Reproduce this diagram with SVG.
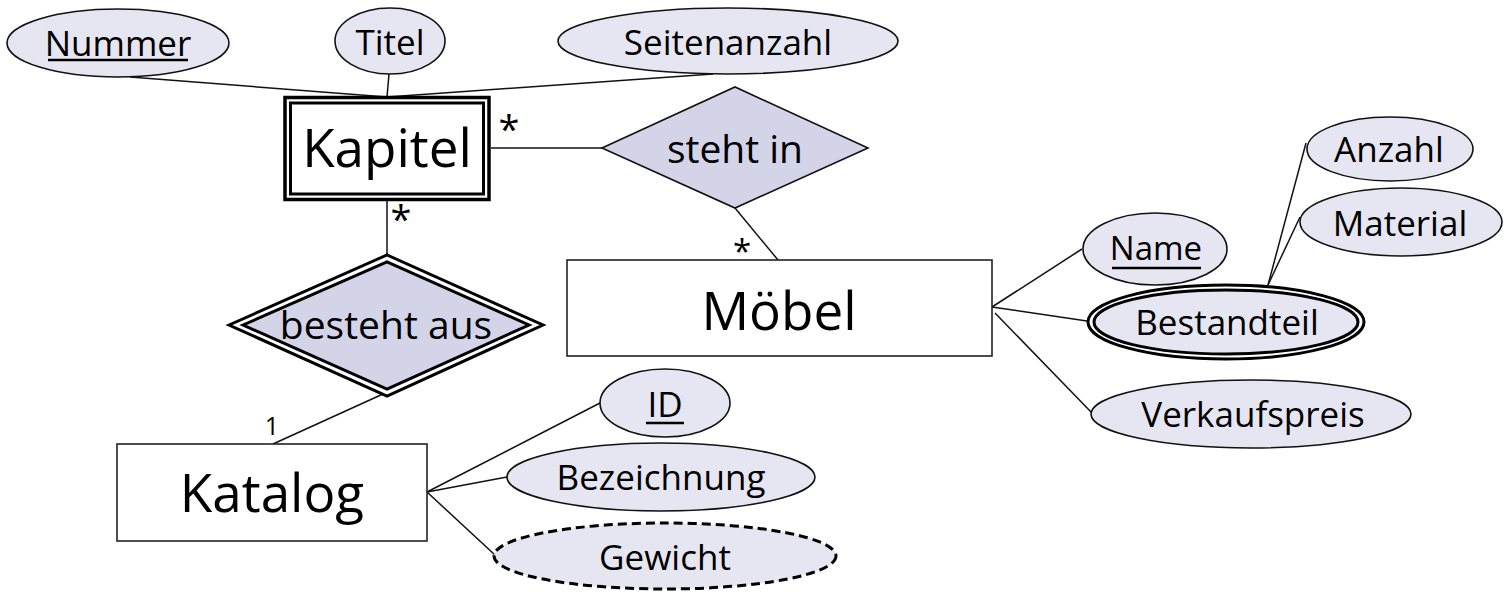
<svg xmlns="http://www.w3.org/2000/svg" width="1507" height="592" viewBox="0 0 1507 592">
<style>
text{font-family:"Open Sans","Noto Sans","DejaVu Sans",sans-serif;fill:#000;text-anchor:middle}
.attr{fill:#e6e6f2;stroke:#111;stroke-width:1.6}
.rel{fill:#d4d4e8;stroke:#111;stroke-width:1.6}
.ent{fill:#fff;stroke:#222;stroke-width:1.6}
.lbl{font-size:35px}
.big{font-size:53px}
.mid{font-size:39px}
.card{font-size:38px}
.ul{stroke:#000;stroke-width:2.5}
#connectors line{stroke:#111;stroke-width:1.5}
</style>
<g id="connectors">
<line x1="130" y1="77" x2="387" y2="97"/>
<line x1="389" y1="74" x2="387" y2="97"/>
<line x1="713" y1="74" x2="387" y2="97"/>
<line x1="491" y1="148" x2="602" y2="148"/>
<line x1="735" y1="208" x2="778" y2="260"/>
<line x1="387" y1="201" x2="387" y2="255"/>
<line x1="383" y1="394" x2="273" y2="444"/>
<line x1="427" y1="492" x2="600" y2="403"/>
<line x1="427" y1="492" x2="507" y2="477"/>
<line x1="427" y1="492" x2="495" y2="555"/>
<line x1="992" y1="307" x2="1082" y2="249"/>
<line x1="992" y1="307" x2="1087" y2="321"/>
<line x1="995" y1="313" x2="1092" y2="413"/>
<line x1="1268" y1="285" x2="1306" y2="143"/>
<line x1="1268" y1="285" x2="1300" y2="217"/>
</g>
<g id="cardinalities">
<text class="card" x="509" y="143">*</text>
<text class="card" x="401" y="233">*</text>
<text x="742" y="263" style="font-size:33px">*</text>
<text x="272" y="435" style="font-size:25px">1</text>
</g>
<g id="nummer">
<ellipse class="attr" cx="118" cy="43" rx="111" ry="34"/>
<text class="lbl" x="118" y="56">Nummer</text>
<line class="ul" x1="48" y1="60" x2="188" y2="60"/>
</g>
<g id="titel">
<ellipse class="attr" cx="390" cy="41" rx="55" ry="33"/>
<text class="lbl" x="390" y="55">Titel</text>
</g>
<g id="seitenanzahl">
<ellipse class="attr" cx="728" cy="41" rx="170" ry="33"/>
<text class="lbl" x="728" y="55">Seitenanzahl</text>
</g>
<g id="kapitel">
<rect x="285" y="97.5" width="204" height="102" fill="#fff" stroke="#000" stroke-width="3.5"/>
<rect x="290.5" y="103" width="193" height="91" fill="#fff" stroke="#000" stroke-width="3"/>
<text class="big" x="387" y="167">Kapitel</text>
</g>
<g id="steht-in">
<polygon class="rel" points="602,148 735,87 868,148 735,208"/>
<text class="mid" x="735" y="163">steht in</text>
</g>
<g id="moebel">
<rect class="ent" x="567" y="260" width="425" height="96"/>
<text class="big" x="779" y="330">Möbel</text>
</g>
<g id="besteht-aus">
<polygon points="229,325 387,255 543,325 387,396" fill="#fff" stroke="#000" stroke-width="3"/>
<polygon points="243,325 387,262 529,325 387,389" fill="#d4d4e8" stroke="#000" stroke-width="3"/>
<text class="mid" x="386" y="339">besteht aus</text>
</g>
<g id="katalog">
<rect class="ent" x="117" y="444" width="310" height="97"/>
<text class="big" x="272" y="512">Katalog</text>
</g>
<g id="id">
<ellipse class="attr" cx="665" cy="403" rx="65" ry="34"/>
<text class="lbl" x="665" y="417">ID</text>
<line class="ul" x1="646" y1="423" x2="684" y2="423"/>
</g>
<g id="bezeichnung">
<ellipse class="attr" cx="661" cy="477" rx="154" ry="34"/>
<text class="lbl" x="661" y="490">Bezeichnung</text>
</g>
<g id="gewicht">
<ellipse cx="665" cy="556" rx="171" ry="33" fill="#e6e6f2" stroke="#000" stroke-width="3" stroke-dasharray="9 5"/>
<text class="lbl" x="665" y="570">Gewicht</text>
</g>
<g id="name">
<ellipse class="attr" cx="1155" cy="249" rx="72" ry="36"/>
<text class="lbl" x="1156" y="260" style="font-size:33px">Name</text>
<line class="ul" x1="1112" y1="268" x2="1201" y2="268"/>
</g>
<g id="bestandteil">
<ellipse cx="1226" cy="322" rx="138" ry="37" fill="#fff" stroke="#000" stroke-width="3"/>
<ellipse cx="1226" cy="322" rx="132" ry="32" fill="#e6e6f2" stroke="#000" stroke-width="3"/>
<text class="lbl" x="1227" y="335">Bestandteil</text>
</g>
<g id="anzahl">
<ellipse class="attr" cx="1390" cy="149" rx="83" ry="32"/>
<text class="lbl" x="1389" y="162">Anzahl</text>
</g>
<g id="material">
<ellipse class="attr" cx="1401" cy="222" rx="101" ry="34"/>
<text class="lbl" x="1400" y="236">Material</text>
</g>
<g id="verkaufspreis">
<ellipse class="attr" cx="1251" cy="414" rx="160" ry="34"/>
<text class="lbl" x="1253" y="427">Verkaufspreis</text>
</g>
</svg>
